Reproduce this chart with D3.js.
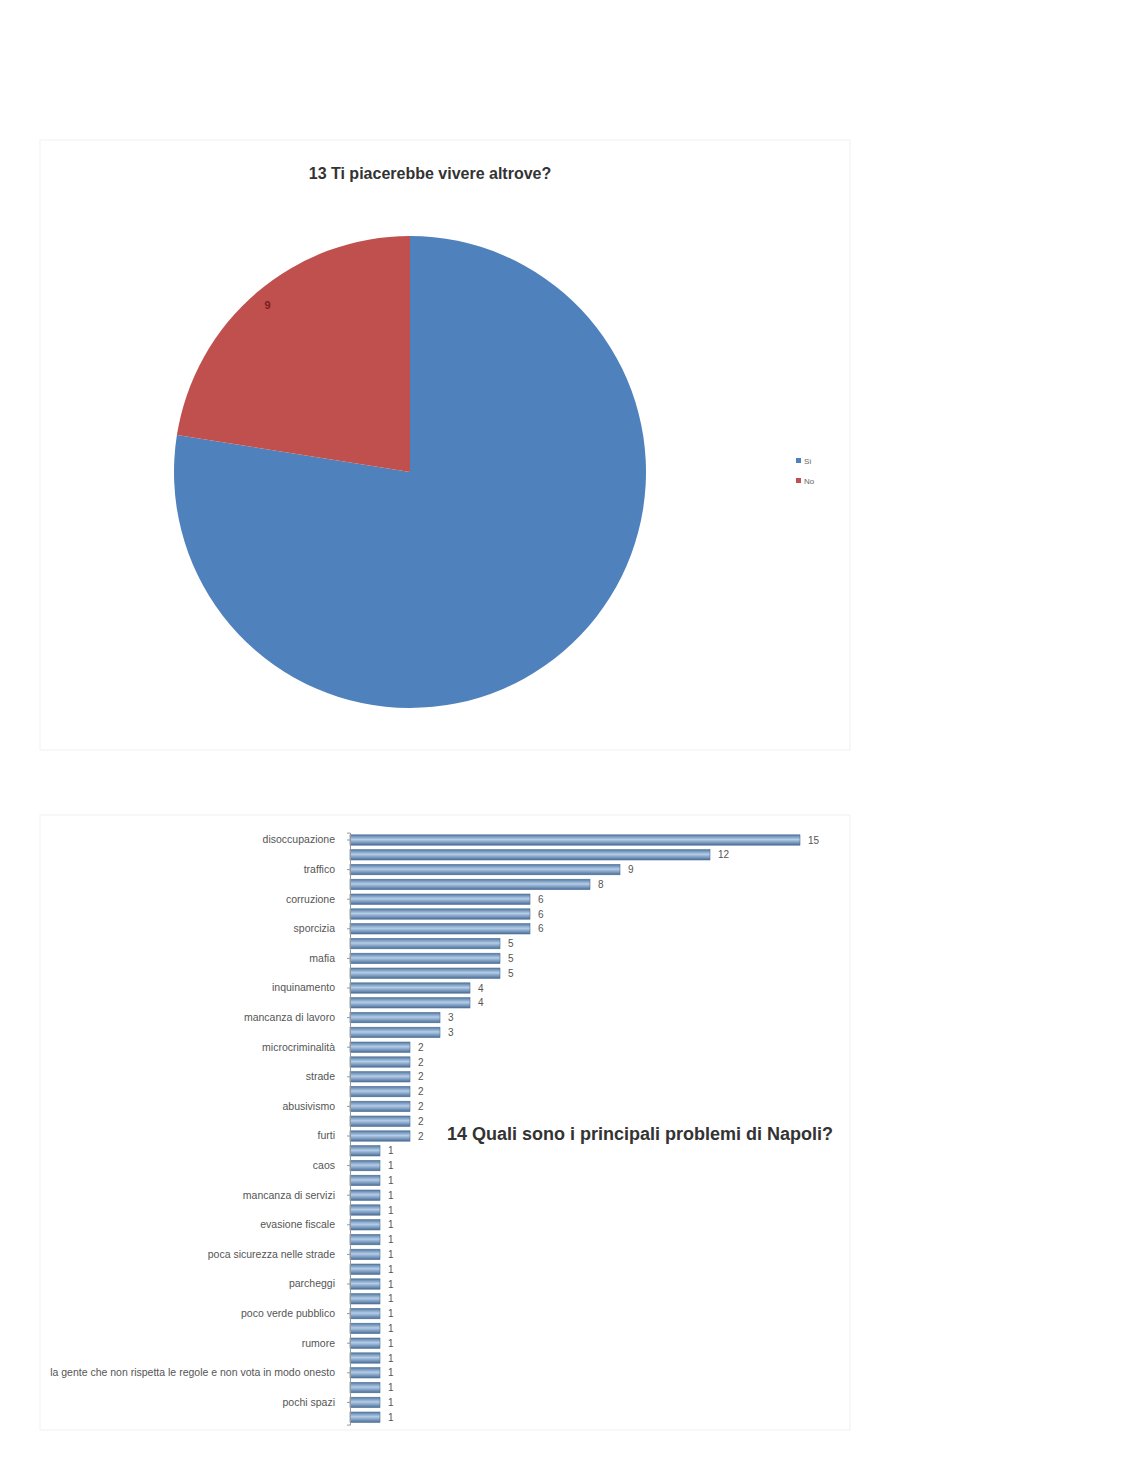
<!DOCTYPE html>
<html>
<head>
<meta charset="utf-8">
<script src="https://cdn.jsdelivr.net/npm/d3@7"></script>
<style>
  html, body { margin: 0; padding: 0; background: #ffffff; }
  svg { display: block; }
</style>
</head>
<body>
<svg id="chart" width="1143" height="1464"></svg>
<script>
// ---------- Data ----------
const pieTitle = "13 Ti piacerebbe vivere altrove?";
const pieLabels = ["Sì", "No"];
const pieValues = [31, 9];
const pieColors = ["#4F81BD", "#C0504D"];

const barTitle = "14 Quali sono i principali problemi di Napoli?";
const barCategories = [
  "disoccupazione", "criminalità", "traffico", "rifiuti", "corruzione",
  "camorra", "sporcizia", "sanità", "mafia", "trasporti",
  "inquinamento", "burocrazia", "mancanza di lavoro", "illegalità", "microcriminalità",
  "degrado", "strade", "scuola", "abusivismo", "povertà",
  "furti", "politica", "caos", "droga", "mancanza di servizi",
  "ignoranza", "evasione fiscale", "mentalità", "poca sicurezza nelle strade", "vandalismo",
  "parcheggi", "immigrazione", "poco verde pubblico", "emigrazione", "rumore",
  "prezzi alti", "la gente che non rispetta le regole e non vota in modo onesto", "smog", "pochi spazi", "malasanità"
];
const barValues = [
  15, 12, 9, 8, 6,
  6, 6, 5, 5, 5,
  4, 4, 3, 3, 2,
  2, 2, 2, 2, 2,
  2, 1, 1, 1, 1,
  1, 1, 1, 1, 1,
  1, 1, 1, 1, 1,
  1, 1, 1, 1, 1
];

// ---------- Drawing ----------
const svg = d3.select("#chart");
const font = "'Liberation Sans', Arial, sans-serif";

// chart frames (very faint)
svg.append("rect").attr("x", 40).attr("y", 140).attr("width", 810).attr("height", 610)
  .attr("fill", "#ffffff").attr("stroke", "#f1f1f1").attr("stroke-width", 1);
svg.append("rect").attr("x", 40).attr("y", 815).attr("width", 810).attr("height", 615)
  .attr("fill", "#ffffff").attr("stroke", "#f1f1f1").attr("stroke-width", 1);

// ---- Pie ----
svg.append("text")
  .attr("x", 430).attr("y", 179)
  .attr("text-anchor", "middle")
  .attr("font-family", font).attr("font-size", 16).attr("font-weight", "bold")
  .attr("fill", "#333")
  .text(pieTitle);

const pieData = pieLabels.map((l, i) => ({label: l, value: pieValues[i], color: pieColors[i]}));
const pie = d3.pie().sort(null).value(d => d.value);
const arcs = pie(pieData);
const radius = 236;
const arc = d3.arc().innerRadius(0).outerRadius(radius);
const pg = svg.append("g").attr("transform", "translate(410,472)");
pg.selectAll("path").data(arcs).join("path")
  .attr("d", arc)
  .attr("fill", d => d.data.color);

// data label on the red slice
pg.append("text")
  .datum(arcs[1])
  .attr("transform", d => {
    const a = (d.startAngle + d.endAngle) / 2;
    return `translate(${Math.sin(a) * radius * 0.93},${-Math.cos(a) * radius * 0.93 + 4})`;
  })
  .attr("text-anchor", "middle")
  .attr("font-family", font).attr("font-size", 11).attr("font-weight", "bold")
  .attr("fill", "#7a1f1c")
  .text(d => d.data.value);

// legend
const lg = svg.append("g").attr("transform", "translate(796,456)");
const li = lg.selectAll("g").data(pieData).join("g")
  .attr("transform", (d, i) => `translate(0,${i * 20})`);
li.append("rect").attr("x", 0).attr("y", 2).attr("width", 5).attr("height", 5)
  .attr("fill", d => d.color);
li.append("text").attr("x", 8).attr("y", 8)
  .attr("font-family", font).attr("font-size", 8).attr("fill", "#666")
  .text(d => d.label);

// ---- Bar chart ----
const x = d3.scaleLinear().domain([0, 15]).range([350, 800]);
const y = d3.scaleBand().domain(barCategories).range([832.6, 1424.6]).paddingInner(0.3).paddingOuter(0.15);

const defs = svg.append("defs");
const grad = defs.append("linearGradient").attr("id", "barGrad")
  .attr("x1", 0).attr("y1", 0).attr("x2", 0).attr("y2", 1);
grad.append("stop").attr("offset", "0%").attr("stop-color", "#56799f");
grad.append("stop").attr("offset", "45%").attr("stop-color", "#b3cdea");
grad.append("stop").attr("offset", "100%").attr("stop-color", "#4c6e96");

const bg = svg.append("g");
bg.selectAll("rect").data(barCategories).join("rect")
  .attr("x", x(0))
  .attr("y", d => y(d))
  .attr("width", (d, i) => x(barValues[i]) - x(0))
  .attr("height", y.bandwidth())
  .attr("fill", "url(#barGrad)")
  .attr("stroke", "#4a6f9a").attr("stroke-width", 0.6);

// value labels
bg.selectAll("text.val").data(barCategories).join("text")
  .attr("class", "val")
  .attr("x", (d, i) => x(barValues[i]) + 8)
  .attr("y", d => y(d) + y.bandwidth() / 2 + 3.5)
  .attr("font-family", font).attr("font-size", 10).attr("fill", "#555")
  .text((d, i) => barValues[i]);

// category axis (every other label shown, as in the original)
const yAxis = d3.axisLeft(y)
  .tickValues(barCategories.filter((d, i) => i % 2 === 0))
  .tickSize(3).tickPadding(12);
const ag = svg.append("g").attr("transform", `translate(${x(0)},0)`).call(yAxis);
ag.select(".domain").attr("stroke", "#999");
ag.selectAll(".tick line").attr("stroke", "#999");
ag.selectAll(".tick text")
  .attr("font-family", font).attr("font-size", 10.5).attr("fill", "#555");

// bar chart title
svg.append("text")
  .attr("x", 640).attr("y", 1140)
  .attr("text-anchor", "middle")
  .attr("font-family", font).attr("font-size", 18).attr("font-weight", "bold")
  .attr("fill", "#333")
  .text(barTitle);
</script>
</body>
</html>
